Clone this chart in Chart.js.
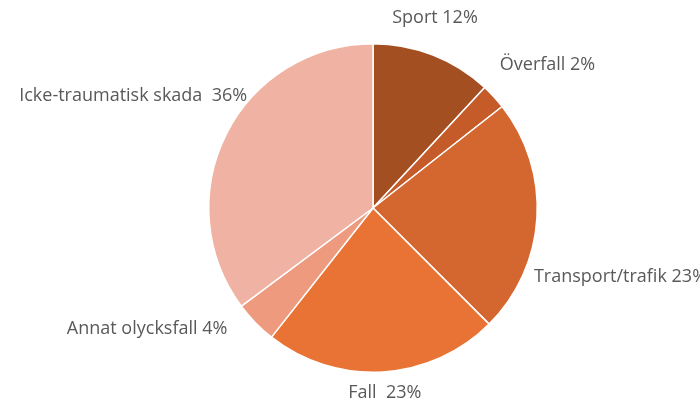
<!DOCTYPE html>
<html>
<head>
<meta charset="utf-8">
<script src="https://cdn.jsdelivr.net/npm/chart.js@4"></script>
<style>
  html, body { margin: 0; padding: 0; background: #fff; }
  #wrap { width: 700px; height: 403px; position: relative; }
</style>
</head>
<body>
<div id="wrap"><canvas id="pie"></canvas></div>
<script>
const categories = ['Sport', 'Överfall', 'Transport/trafik', 'Fall', 'Annat olycksfall', 'Icke-traumatisk skada'];
const shares = [11.9, 2.5, 23.1, 23.1, 4.2, 35.2];
const percentLabels = ['12%', '2%', '23%', '23%', '4%', '36%'];
const labelGaps = [' ', ' ', ' ', '  ', ' ', '  '];

const colors = ['#A34F21', '#C45B29', '#D4672F', '#E87334', '#EE9A7F', '#F0B3A3'];

// label placement relative to each slice's outer mid point: [dx, dy, align]
const labelPlace = [
  [2, -37, 'center'],
  [6, -32, 'left'],
  [-3, 59, 'left'],
  [2, 21, 'center'],
  [-28, 6, 'right'],
  [21, -38, 'right'],
];

const outsideLabels = {
  id: 'outsideLabels',
  afterDatasetsDraw(chart) {
    const ctx = chart.ctx;
    const meta = chart.getDatasetMeta(0);
    ctx.save();
    ctx.font = '18px "Open Sans", sans-serif';
    ctx.fillStyle = '#595959';
    ctx.textBaseline = 'middle';
    meta.data.forEach((arc, i) => {
      const mid = (arc.startAngle + arc.endAngle) / 2;
      const x = arc.x + Math.cos(mid) * arc.outerRadius + labelPlace[i][0];
      const y = arc.y + Math.sin(mid) * arc.outerRadius + labelPlace[i][1];
      ctx.textAlign = labelPlace[i][2];
      ctx.fillText(categories[i] + labelGaps[i] + percentLabels[i], x, y);
    });
    ctx.restore();
  }
};

new Chart(document.getElementById('pie'), {
  type: 'pie',
  data: {
    labels: categories,
    datasets: [{
      data: shares,
      backgroundColor: colors,
      borderColor: '#ffffff',
      borderWidth: 1.5,
    }],
  },
  options: {
    responsive: true,
    maintainAspectRatio: false,
    animation: false,
    layout: { padding: { top: 43, bottom: 30, left: 208, right: 162 } },
    plugins: {
      legend: { display: false },
      tooltip: { enabled: false },
    },
  },
  plugins: [outsideLabels],
});
</script>
</body>
</html>
